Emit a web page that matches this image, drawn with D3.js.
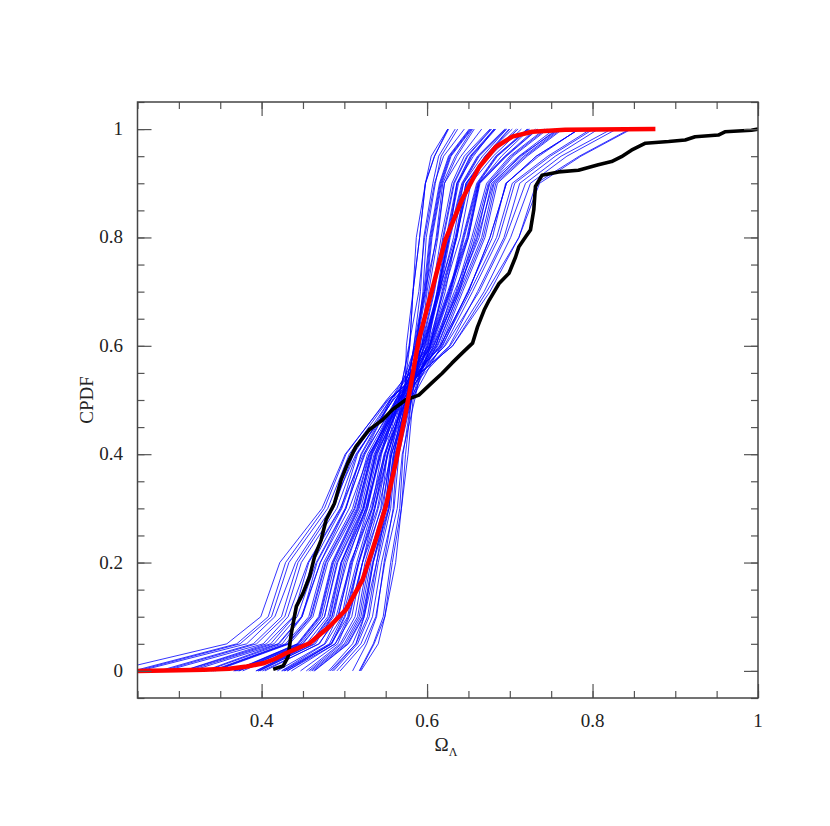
<!DOCTYPE html>
<html>
<head>
<meta charset="utf-8">
<script src="https://cdn.jsdelivr.net/npm/d3@7"></script>
<style>
body { margin: 0; background: #fff; }
</style>
</head>
<body>
<div id="chart"></div>
<script>
// CPDF levels at which each simulated run's Omega_Lambda value was read
var cpdfLevels = [0, 0.05, 0.1, 0.2, 0.3, 0.4, 0.5, 0.6, 0.7, 0.8, 0.9, 0.95, 1];

// blue: one row per realisation (Omega_Lambda at each cpdf level)
var blueRuns = [
  [.519,.536,.549,.558,.569,.574,.581,.592,.600,.611,.619,.634,.655],
  [.483,.514,.524,.539,.550,.560,.571,.579,.583,.591,.598,.609,.626],
  [.457,.497,.516,.528,.547,.555,.574,.591,.606,.617,.630,.645,.676],
  [.431,.489,.505,.522,.541,.557,.576,.594,.602,.613,.621,.636,.657],
  [.396,.460,.485,.499,.526,.540,.567,.594,.613,.626,.642,.661,.694],
  [.372,.449,.476,.491,.522,.538,.570,.604,.627,.643,.660,.683,.721],
  [.333,.425,.449,.471,.502,.524,.556,.602,.625,.648,.662,.694,.731],
  [.310,.415,.443,.466,.501,.525,.562,.615,.641,.668,.683,.719,.762],
  [.276,.390,.424,.444,.487,.511,.555,.622,.663,.695,.719,.762,.823],
  [.220,.358,.399,.422,.473,.501,.552,.631,.676,.711,.736,.786,.847],
  [.495,.524,.538,.549,.564,.570,.585,.599,.614,.625,.638,.654,.683],
  [.447,.492,.506,.522,.537,.549,.566,.578,.590,.597,.609,.620,.645],
  [.428,.485,.501,.518,.537,.553,.572,.600,.615,.632,.644,.667,.696],
  [.404,.469,.493,.507,.534,.548,.575,.597,.612,.623,.636,.652,.681],
  [.366,.443,.469,.485,.516,.532,.562,.610,.636,.663,.678,.714,.757],
  [.344,.434,.462,.480,.515,.533,.569,.603,.618,.635,.647,.670,.699],
  [.510,.527,.539,.548,.559,.563,.573,.575,.583,.587,.598,.605,.625],
  [.461,.502,.520,.532,.551,.559,.578,.605,.628,.644,.661,.684,.722],
  [.424,.477,.497,.510,.533,.545,.566,.604,.627,.650,.664,.696,.734],
  [.398,.463,.487,.501,.528,.542,.569,.586,.598,.605,.617,.628,.653],
  [.377,.454,.480,.496,.527,.543,.575,.601,.612,.627,.636,.656,.681],
  [.339,.429,.457,.475,.510,.528,.564,.616,.650,.676,.696,.732,.784],
  [.306,.411,.439,.462,.497,.521,.558,.601,.620,.640,.653,.680,.714],
  [.253,.382,.416,.441,.484,.514,.559,.627,.661,.693,.712,.755,.807],
  [.487,.516,.530,.541,.556,.562,.577,.596,.615,.628,.644,.663,.696],
  [.463,.504,.522,.534,.553,.561,.580,.587,.595,.599,.610,.617,.637],
  [.419,.476,.492,.509,.528,.544,.563,.586,.597,.612,.621,.641,.666],
  [.401,.470,.490,.508,.531,.549,.574,.606,.629,.645,.662,.685,.723],
  [.368,.445,.471,.487,.518,.534,.566,.595,.614,.627,.643,.662,.695],
  [.342,.432,.460,.478,.513,.531,.567,.594,.609,.620,.633,.649,.678],
  [.305,.406,.438,.457,.496,.516,.555,.618,.652,.684,.703,.746,.798],
  [.284,.402,.432,.456,.495,.523,.565,.612,.639,.658,.676,.704,.746],
  [.249,.374,.412,.433,.480,.506,.553,.631,.672,.711,.732,.784,.845],
  [.518,.535,.547,.556,.567,.571,.581,.593,.608,.619,.632,.648,.677],
  [.485,.514,.528,.539,.554,.560,.575,.584,.596,.603,.615,.626,.651],
  [.464,.505,.523,.535,.554,.562,.581,.603,.622,.635,.651,.670,.703],
  [.431,.484,.504,.517,.540,.552,.575,.584,.592,.596,.607,.614,.634],
  [.393,.458,.482,.496,.523,.537,.562,.603,.626,.649,.663,.695,.733],
  [.370,.447,.473,.489,.520,.536,.568,.587,.599,.606,.618,.629,.654],
  [.331,.421,.449,.467,.502,.520,.556,.595,.614,.634,.647,.674,.708],
  [.315,.420,.448,.471,.506,.530,.569,.598,.613,.624,.637,.653,.682],
  [.280,.394,.428,.448,.491,.515,.559,.616,.650,.676,.696,.732,.784],
  [.454,.495,.513,.525,.544,.552,.571,.608,.638,.661,.680,.712,.759],
  [.436,.489,.509,.522,.545,.557,.580,.611,.630,.650,.663,.690,.724],
  [.394,.459,.483,.497,.524,.538,.565,.579,.583,.591,.598,.609,.625],
  [.373,.450,.476,.492,.523,.539,.571,.610,.637,.656,.674,.702,.744],
  [.481,.510,.524,.535,.550,.556,.569,.597,.616,.636,.649,.676,.710],
  [.341,.431,.459,.477,.512,.530,.566,.628,.669,.701,.725,.769,.829],
  [.427,.484,.500,.517,.536,.552,.571,.619,.649,.679,.695,.735,.783],
  [.520,.541,.549,.562,.569,.577,.583,.604,.619,.636,.648,.671,.700],
  [.396,.465,.485,.503,.526,.544,.567,.613,.639,.666,.681,.717,.760],
  [.367,.444,.470,.486,.517,.533,.563,.621,.655,.687,.706,.749,.801],
  [.459,.500,.518,.530,.549,.557,.576,.608,.635,.654,.672,.700,.742],
  [.491,.520,.534,.545,.560,.566,.581,.617,.643,.670,.685,.721,.764],
  [.245,.370,.408,.429,.476,.502,.551,.607,.633,.660,.675,.711,.754],
  [.425,.482,.498,.515,.534,.550,.569,.585,.597,.604,.616,.627,.652]
];

// red: mean CPDF
var redX = [0.25, 0.30, 0.33, 0.361, 0.382, 0.402, 0.416, 0.430, 0.458, 0.482, 0.502, 0.522, 0.538, 0.550,
            0.562, 0.574, 0.580, 0.590, 0.606, 0.622, 0.642, 0.663, 0.683, 0.703, 0.727, 0.767, 0.876];
var redY = [0.0, 0.001, 0.002, 0.004, 0.008, 0.014, 0.022, 0.033, 0.051, 0.082, 0.113, 0.168, 0.242, 0.303,
            0.383, 0.475, 0.525, 0.611, 0.703, 0.795, 0.869, 0.930, 0.967, 0.986, 0.995, 0.999, 1.0];

// black: observed CPDF
var blackX = [0.414, 0.426, 0.432, 0.436, 0.442, 0.450, 0.458, 0.464, 0.472, 0.478, 0.488, 0.496, 0.504,
              0.514, 0.530, 0.546, 0.558, 0.574, 0.590, 0.606, 0.618, 0.630, 0.642, 0.655, 0.661, 0.669,
              0.675, 0.687, 0.699, 0.707, 0.711, 0.719, 0.725, 0.729, 0.731, 0.739, 0.759, 0.783, 0.807,
              0.823, 0.835, 0.847, 0.864, 0.892, 0.912, 0.924, 0.952, 0.960, 0.992, 1.0];
var blackY = [0.003, 0.009, 0.026, 0.070, 0.119, 0.143, 0.174, 0.211, 0.242, 0.279, 0.309, 0.352, 0.383,
              0.414, 0.445, 0.463, 0.482, 0.500, 0.509, 0.532, 0.549, 0.568, 0.586, 0.605, 0.635, 0.666,
              0.684, 0.715, 0.734, 0.764, 0.783, 0.801, 0.814, 0.851, 0.894, 0.915, 0.921, 0.924, 0.934,
              0.940, 0.949, 0.961, 0.974, 0.977, 0.980, 0.986, 0.989, 0.995, 0.998, 1.0];

var xMajor = [0.4, 0.6, 0.8, 1];
var yMajor = [0, 0.2, 0.4, 0.6, 0.8, 1];

var W = 830, H = 826;
var padL = 137.5, padR = 758, padT = 102, padB = 698;

var svg = d3.select("#chart").append("svg")
    .attr("width", W)
    .attr("height", H);

var x = d3.scaleLinear().domain([0.25, 1]).range([padL, padR]);
var y = d3.scaleLinear().domain([-0.05, 1.05]).range([padB, padT]);

var xMinor = d3.range(0.25, 1.0001, 0.05).map(function(v){ return +v.toFixed(2); });
var yMinor = d3.range(-0.05, 1.0501, 0.05).map(function(v){ return +v.toFixed(2); });

svg.append("clipPath").attr("id", "plotclip")
  .append("rect")
    .attr("x", padL).attr("y", padT)
    .attr("width", padR - padL).attr("height", padB - padT);

var plot = svg.append("g").attr("clip-path", "url(#plotclip)");

var line = d3.line()
    .x(function(d){ return x(d[0]); })
    .y(function(d){ return y(d[1]); });

// blue realisations
plot.selectAll("path.run")
  .data(blueRuns)
  .enter()
  .append("path")
    .attr("class", "run")
    .attr("d", function(r){ return line(r.map(function(v, i){ return [v, cpdfLevels[i]]; })); })
    .attr("fill", "none")
    .attr("stroke", "#0000ff")
    .attr("stroke-width", 0.8)
    .attr("stroke-linejoin", "round");

// black observed curve
plot.append("path")
    .attr("d", line(blackX.map(function(v, i){ return [v, blackY[i]]; })))
    .attr("fill", "none")
    .attr("stroke", "#000")
    .attr("stroke-width", 3.6)
    .attr("stroke-linejoin", "round");

// red mean curve
plot.append("path")
    .attr("d", line(redX.map(function(v, i){ return [v, redY[i]]; })))
    .attr("fill", "none")
    .attr("stroke", "#ff0000")
    .attr("stroke-width", 4.5)
    .attr("stroke-linejoin", "round");

// axes, ticks pointing inwards on all four sides
function ticks(axis, vals, size, pos) {
  var g = svg.append("g")
      .attr("transform", pos)
      .call(axis.tickValues(vals).tickSize(size).tickFormat(""));
  g.select(".domain").remove();
  g.selectAll("line").attr("stroke", "#555").attr("stroke-width", 1.2);
  return g;
}

ticks(d3.axisBottom(x), xMinor, -7, "translate(0," + padB + ")");
ticks(d3.axisBottom(x), xMajor, -14, "translate(0," + padB + ")");
ticks(d3.axisTop(x), xMinor, -7, "translate(0," + padT + ")");
ticks(d3.axisTop(x), xMajor, -14, "translate(0," + padT + ")");
ticks(d3.axisLeft(y), yMinor, -7, "translate(" + padL + ",0)");
ticks(d3.axisLeft(y), yMajor, -14, "translate(" + padL + ",0)");
ticks(d3.axisRight(y), yMinor, -7, "translate(" + padR + ",0)");
ticks(d3.axisRight(y), yMajor, -14, "translate(" + padR + ",0)");

svg.append("rect")
    .attr("x", padL).attr("y", padT)
    .attr("width", padR - padL).attr("height", padB - padT)
    .attr("fill", "none")
    .attr("stroke", "#444")
    .attr("stroke-width", 1.5);

// tick labels
var fontFam = "'Liberation Serif', 'DejaVu Serif', serif";

svg.selectAll("text.xlab")
  .data(xMajor)
  .enter()
  .append("text")
    .attr("x", function(d){ return x(d); })
    .attr("y", 727)
    .attr("text-anchor", "middle")
    .style("font-family", fontFam)
    .style("font-size", "19px")
    .attr("fill", "#222")
    .text(function(d){ return d3.format("")(d); });

svg.selectAll("text.ylab")
  .data(yMajor)
  .enter()
  .append("text")
    .attr("x", 123)
    .attr("y", function(d){ return y(d) + 6; })
    .attr("text-anchor", "end")
    .style("font-family", fontFam)
    .style("font-size", "19px")
    .attr("fill", "#222")
    .text(function(d){ return d3.format("")(d); });

// axis titles
var xt = svg.append("text")
    .attr("x", 446)
    .attr("y", 751)
    .attr("text-anchor", "middle")
    .style("font-family", fontFam)
    .style("font-size", "19px")
    .attr("fill", "#222");
xt.append("tspan").text("Ω");
xt.append("tspan").attr("dy", 5).style("font-size", "12px").text("Λ");

svg.append("text")
    .attr("transform", "translate(93,400) rotate(-90)")
    .attr("text-anchor", "middle")
    .style("font-family", fontFam)
    .style("font-size", "19px")
    .attr("fill", "#222")
    .text("CPDF");
</script>
</body>
</html>
